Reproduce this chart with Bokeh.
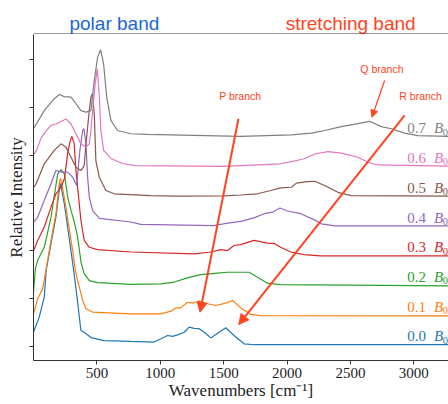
import math
from bokeh.plotting import figure
from bokeh.layouts import column
from bokeh.models import (Arrow, NormalHead, FixedTicker, Range1d, ColumnDataSource)
from bokeh.core.properties import value
from bokeh.embed import file_html
from bokeh.resources import INLINE

# ---------------- data ----------------
fractions = ["0.0", "0.1", "0.2", "0.3", "0.4", "0.5", "0.6", "0.7"]
colors = ["#1f77b4", "#ff7f0e", "#2ca02c", "#d62728",
          "#9467bd", "#8c564b", "#e377c2", "#7f7f7f"]

wn_00 = [0, 45, 85, 100, 138, 177, 203, 211, 220, 243, 280, 317, 340, 374, 400, 453, 556, 768,
         950, 1030, 1057, 1097, 1136, 1189, 1228, 1267, 1307, 1350, 1399, 1464, 1517, 1582, 1661,
         1740, 2000, 3300]
int_00 = [0.47, 0.98, 1.65, 2.55, 3.45, 4.34, 5.24, 5.48, 5.31, 4.80, 3.69, 2.55, 1.77, 0.53,
          0.47, 0.29, 0.19, 0.16, 0.14, 0.30, 0.36, 0.33, 0.38, 0.47, 0.64, 0.60, 0.59, 0.46,
          0.28, 0.47, 0.62, 0.36, 0.08, 0.05, 0.05, 0.05]

wn_01 = [0, 33, 72, 98, 138, 177, 203, 213, 225, 251, 309, 330, 348, 388, 414, 466, 768, 1005,
         1084, 1123, 1162, 1215, 1254, 1307, 1373, 1438, 1517, 1570, 1635, 1714, 1793, 3300]
int_01 = [0.09, 0.60, 0.93, 1.55, 2.56, 3.46, 4.47, 4.65, 4.44, 3.80, 2.22, 1.55, 1.21, 0.54,
          0.26, 0.15, 0.09, 0.09, 0.18, 0.29, 0.29, 0.48, 0.45, 0.52, 0.43, 0.37, 0.45, 0.54,
          0.29, 0.07, 0.03, 0.02]

wn_02 = [0, 15, 33, 85, 138, 191, 217, 243, 270, 296, 322, 348, 375, 400, 440, 506, 768, 1005,
         1110, 1215, 1320, 1451, 1530, 1635, 1701, 1767, 1846, 1950, 3300]
int_02 = [-0.19, 0.62, 0.89, 1.33, 2.34, 3.80, 3.94, 3.80, 3.02, 2.57, 2.18, 1.67, 0.82, 0.44,
          0.21, 0.14, 0.08, 0.10, 0.16, 0.30, 0.41, 0.46, 0.49, 0.49, 0.49, 0.32, 0.12, 0.07,
          0.03]

wn_03 = [0, 33, 85, 138, 177, 217, 245, 269, 290, 303, 321, 335, 348, 374, 400, 440, 506, 768,
         1267, 1399, 1478, 1530, 1582, 1635, 1740, 1846, 1903, 1950, 2029, 2134, 2266, 3300]
int_03 = [0.20, 0.56, 1.01, 1.68, 2.13, 2.35, 2.65, 3.48, 3.92, 4.06, 3.81, 2.91, 2.35, 1.23,
          0.56, 0.33, 0.25, 0.17, 0.11, 0.17, 0.25, 0.22, 0.39, 0.42, 0.56, 0.47, 0.45, 0.33,
          0.17, 0.08, 0.04, 0.04]

wn_04 = [0, 33, 85, 138, 177, 217, 269, 309, 340, 366, 388, 398, 414, 427, 440, 466, 519, 768,
         847, 1425, 1530, 1635, 1740, 1819, 1885, 1945, 2003, 2108, 2213, 2271, 2376, 3300]
int_04 = [0.17, 0.34, 0.91, 1.47, 1.92, 1.86, 1.86, 1.69, 1.41, 2.59, 3.26, 3.32, 2.81, 1.69,
          1.02, 0.57, 0.30, 0.18, 0.10, 0.06, 0.14, 0.20, 0.32, 0.46, 0.51, 0.65, 0.55, 0.46,
          0.26, 0.12, 0.05, 0.05]

wn_05 = [0, 20, 85, 164, 217, 256, 296, 335, 374, 400, 414, 427, 440, 453, 466, 480, 492, 519,
         571, 636, 926, 1110, 1504, 1635, 1767, 1872, 1950, 2035, 2074, 2161, 2218, 2297, 2402,
         2507, 3300]
int_05 = [0.34, 0.46, 1.14, 1.59, 1.81, 1.70, 1.36, 1.02, 0.91, 1.08, 1.81, 2.37, 2.93, 3.38,
          3.51, 2.76, 1.25, 0.69, 0.24, 0.13, 0.07, 0.05, 0.06, 0.09, 0.13, 0.24, 0.33, 0.35,
          0.49, 0.54, 0.55, 0.41, 0.18, 0.07, 0.05]

wn_06 = [0, 25, 59, 100, 138, 177, 256, 296, 335, 374, 414, 440, 453, 470, 487, 503, 519, 532,
         553, 611, 700, 800, 1504, 1950, 2055, 2134, 2218, 2323, 2428, 2559, 2638, 2717, 3300]
int_06 = [0.45, 0.60, 1.00, 1.25, 1.43, 1.48, 1.65, 1.48, 1.15, 0.81, 0.70, 0.81, 1.26, 2.10,
          2.83, 3.34, 2.44, 1.26, 0.59, 0.32, 0.15, 0.08, 0.05, 0.14, 0.23, 0.31, 0.47, 0.55,
          0.50, 0.36, 0.19, 0.10, 0.06]

wn_07 = [0, 85, 164, 203, 243, 296, 335, 374, 414, 453, 479, 506, 529, 553, 579, 611, 663, 768,
         900, 1635, 2035, 2192, 2297, 2428, 2559, 2652, 2744, 2823, 2927, 3032, 3300]
int_07 = [0.32, 0.93, 1.33, 1.47, 1.40, 1.38, 1.16, 0.93, 0.88, 0.93, 1.94, 2.73, 2.98, 2.50,
          1.33, 0.60, 0.26, 0.15, 0.13, 0.06, 0.11, 0.17, 0.26, 0.39, 0.49, 0.57, 0.39, 0.32,
          0.17, 0.09, 0.06]

xticks = [500, 1000, 1500, 2000, 2500, 3000]
band_titles = ["polar band", "stretching band"]
band_centers = [638, 2502]
branch_names = ["P branch", "Q branch", "R branch"]

wavenumbers = [wn_00, wn_01, wn_02, wn_03, wn_04, wn_05, wn_06, wn_07]
intensities = [int_00, int_01, int_02, int_03, int_04, int_05, int_06, int_07]

# ---------------- styling constants ----------------
step = 1.0            # vertical offset between spectra
tick_step = 1.6055    # spacing of the (unlabelled) y ticks
SERIF = "Liberation Serif"
SANS = "Liberation Sans"
ACCENT = "#ff4422"
BLUE_T = "#1a66dd"
AXC = "#333333"
X0, X1 = 0, 3274
HEAD_H = 34

# ---------------- header strip with the two band titles ----------------
# (the column layout aligns its frame with the main plot's frame)
head = figure(width=448, height=HEAD_H, output_backend="svg", toolbar_location=None,
              x_range=Range1d(X0, X1), y_range=Range1d(0, HEAD_H),
              x_axis_location=None, y_axis_location=None, title=None,
              min_border_left=33, min_border_right=0, min_border_top=0, min_border_bottom=0)
head.outline_line_color = None
head.xgrid.visible = False
head.ygrid.visible = False
head.text(x=band_centers, y=[11, 11], text=band_titles,
          text_color=[BLUE_T, ACCENT], text_font=value(SANS), text_font_size="19px",
          text_align="center", text_baseline="alphabetic")
head.segment(x0=[X0], y0=[0.5], x1=[X1], y1=[0.5], line_color=AXC, line_width=1)

# ---------------- main plot ----------------
p = figure(width=448, height=404 - HEAD_H, output_backend="svg", toolbar_location=None,
           x_range=Range1d(X0, X1), y_range=Range1d(-0.481, 10.491), title=None,
           min_border_left=33, min_border_right=0, min_border_top=0,
           min_border_bottom=44)
p.outline_line_color = None
p.xgrid.visible = False
p.ygrid.visible = False

for i, (wn, it) in enumerate(zip(wavenumbers, intensities)):
    ys = [v + i * step for v in it]
    p.line(wn, ys, line_color=colors[i], line_width=1.2)

# right-hand labels  "0.x  B_0"
offs = [i * step for i in range(len(fractions))]
src = ColumnDataSource(dict(
    t=fractions,
    x=[2949] * len(fractions),
    xb=[3159] * len(fractions),
    xs=[3229] * len(fractions),
    y=[o + 0.33 for o in offs],
    ys=[o + 0.20 for o in offs],
    c=colors,
    b=["B"] * len(fractions),
    s=["0"] * len(fractions),
))
p.text(x="x", y="y", text="t", source=src, text_color="c",
       text_font=value(SERIF), text_font_size="15px",
       text_baseline="alphabetic", text_align="left")
p.text(x="xb", y="y", text="b", source=src, text_color="c",
       text_font=value(SERIF), text_font_size="15px", text_font_style="italic",
       text_baseline="alphabetic", text_align="left")
p.text(x="xs", y="ys", text="s", source=src, text_color="c",
       text_font=value(SERIF), text_font_size="10.5px",
       text_baseline="alphabetic", text_align="left")

# axes
p.xaxis.ticker = FixedTicker(ticks=xticks)
p.xaxis.minor_tick_line_color = None
p.xaxis.major_tick_in = 0
p.xaxis.major_tick_out = 4
p.xaxis.major_label_text_font = SERIF
p.xaxis.major_label_text_font_size = "15px"
p.xaxis.major_label_text_color = "#222222"
p.xaxis.major_label_standoff = 3
p.xaxis.axis_label = "Wavenumbers [cm\u207b\u00b9]"
p.xaxis.axis_label_text_font = SERIF
p.xaxis.axis_label_text_font_size = "17px"
p.xaxis.axis_label_text_font_style = "normal"
p.xaxis.axis_label_text_color = "#222222"
p.xaxis.axis_label_standoff = 0
p.xaxis.axis_line_color = AXC
p.xaxis.major_tick_line_color = AXC

p.yaxis.ticker = FixedTicker(ticks=[k * tick_step for k in range(7)])
p.yaxis.minor_tick_line_color = None
p.yaxis.major_tick_in = 0
p.yaxis.major_tick_out = 4
p.yaxis.major_label_overrides = {k * tick_step: "" for k in range(7)}
p.yaxis.major_label_standoff = 0
p.yaxis.axis_label = "Relative Intensity"
p.yaxis.axis_label_text_font = SERIF
p.yaxis.axis_label_text_font_size = "17px"
p.yaxis.axis_label_text_font_style = "normal"
p.yaxis.axis_label_text_color = "#222222"
p.yaxis.axis_label_standoff = 4
p.yaxis.axis_line_color = AXC
p.yaxis.major_tick_line_color = AXC

# branch annotations
branch_x = [1631, 2749, 3054]
branch_y = [8.421, 9.32, 8.421]
p.text(x=branch_x, y=branch_y, text=branch_names, text_align="center",
       text_baseline="middle", text_font=value(SANS), text_font_size="10.5px",
       text_color=ACCENT)

p.add_layout(Arrow(end=NormalHead(size=10, fill_color=ACCENT, line_color=ACCENT),
                   x_start=1617, y_start=7.654, x_end=1314, y_end=1.144,
                   line_color=ACCENT, line_width=2))
p.add_layout(Arrow(end=NormalHead(size=7, fill_color=ACCENT, line_color=ACCENT),
                   x_start=2770, y_start=8.943, x_end=2670, y_end=7.708,
                   line_color=ACCENT, line_width=1.2))
p.add_layout(Arrow(end=NormalHead(size=10, fill_color=ACCENT, line_color=ACCENT),
                   x_start=2928, y_start=7.765, x_end=1619, y_end=0.730,
                   line_color=ACCENT, line_width=2))

layout = column(head, p, spacing=0)
open("out.html", "w").write(file_html(layout, INLINE))
